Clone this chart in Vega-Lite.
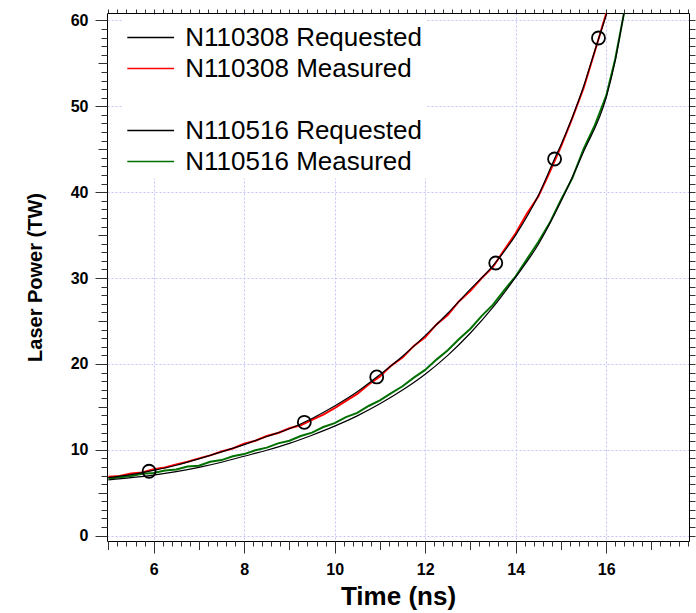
{
  "$schema": "https://vega.github.io/schema/vega-lite/v6.json",
  "width": 582,
  "height": 528,
  "autosize": "none",
  "padding": {"left": 107, "top": 13, "right": 7, "bottom": 72},
  "background": "white",
  "config": {
    "view": {"stroke": null},
    "font": "Liberation Sans",
    "axis": {"grid": false, "domainColor": "black", "domainWidth": 1, "tickColor": "#333333", "tickWidth": 1, "labelFont": "Liberation Sans", "titleFont": "Liberation Sans"}
  },
  "datasets": {
    "requested": [
      {"series": "N110308 Requested", "t": 5.0, "p": 6.75},
      {"series": "N110308 Requested", "t": 5.5, "p": 7.1},
      {"series": "N110308 Requested", "t": 6.0, "p": 7.6},
      {"series": "N110308 Requested", "t": 6.5, "p": 8.2},
      {"series": "N110308 Requested", "t": 7.0, "p": 8.95},
      {"series": "N110308 Requested", "t": 7.5, "p": 9.75},
      {"series": "N110308 Requested", "t": 8.0, "p": 10.6},
      {"series": "N110308 Requested", "t": 8.5, "p": 11.55},
      {"series": "N110308 Requested", "t": 9.0, "p": 12.45},
      {"series": "N110308 Requested", "t": 9.5, "p": 13.65},
      {"series": "N110308 Requested", "t": 10.0, "p": 15.1},
      {"series": "N110308 Requested", "t": 10.5, "p": 16.75},
      {"series": "N110308 Requested", "t": 11.0, "p": 18.75},
      {"series": "N110308 Requested", "t": 11.5, "p": 20.9},
      {"series": "N110308 Requested", "t": 12.0, "p": 23.3},
      {"series": "N110308 Requested", "t": 12.5, "p": 25.9},
      {"series": "N110308 Requested", "t": 13.0, "p": 28.7},
      {"series": "N110308 Requested", "t": 13.5, "p": 31.45},
      {"series": "N110308 Requested", "t": 14.0, "p": 35.0},
      {"series": "N110308 Requested", "t": 14.5, "p": 39.6},
      {"series": "N110308 Requested", "t": 14.86, "p": 43.9},
      {"series": "N110308 Requested", "t": 15.0, "p": 45.5},
      {"series": "N110308 Requested", "t": 15.25, "p": 48.7},
      {"series": "N110308 Requested", "t": 15.5, "p": 52.3},
      {"series": "N110308 Requested", "t": 15.75, "p": 56.5},
      {"series": "N110308 Requested", "t": 16.0, "p": 60.6},
      {"series": "N110308 Requested", "t": 16.1, "p": 62.3},
      {"series": "N110516 Requested", "t": 5.0, "p": 6.5},
      {"series": "N110516 Requested", "t": 5.5, "p": 6.75},
      {"series": "N110516 Requested", "t": 6.0, "p": 7.05},
      {"series": "N110516 Requested", "t": 6.5, "p": 7.45},
      {"series": "N110516 Requested", "t": 7.0, "p": 7.95},
      {"series": "N110516 Requested", "t": 7.5, "p": 8.55},
      {"series": "N110516 Requested", "t": 8.0, "p": 9.25},
      {"series": "N110516 Requested", "t": 8.5, "p": 9.95},
      {"series": "N110516 Requested", "t": 9.0, "p": 10.75},
      {"series": "N110516 Requested", "t": 9.5, "p": 11.7},
      {"series": "N110516 Requested", "t": 10.0, "p": 12.75},
      {"series": "N110516 Requested", "t": 10.5, "p": 13.95},
      {"series": "N110516 Requested", "t": 11.0, "p": 15.35},
      {"series": "N110516 Requested", "t": 11.5, "p": 16.95},
      {"series": "N110516 Requested", "t": 12.0, "p": 18.8},
      {"series": "N110516 Requested", "t": 12.5, "p": 21.0},
      {"series": "N110516 Requested", "t": 13.0, "p": 23.6},
      {"series": "N110516 Requested", "t": 13.5, "p": 26.6},
      {"series": "N110516 Requested", "t": 14.0, "p": 30.1},
      {"series": "N110516 Requested", "t": 14.5, "p": 33.9},
      {"series": "N110516 Requested", "t": 15.0, "p": 38.9},
      {"series": "N110516 Requested", "t": 15.5, "p": 44.7},
      {"series": "N110516 Requested", "t": 16.0, "p": 51.0},
      {"series": "N110516 Requested", "t": 16.2, "p": 55.3},
      {"series": "N110516 Requested", "t": 16.4, "p": 61.0},
      {"series": "N110516 Requested", "t": 16.45, "p": 62.3}
    ],
    "measured": [
      {"series": "N110308 Measured", "t": 5.0, "p": 6.85},
      {"series": "N110308 Measured", "t": 5.25, "p": 6.95},
      {"series": "N110308 Measured", "t": 5.5, "p": 7.25},
      {"series": "N110308 Measured", "t": 5.75, "p": 7.35},
      {"series": "N110308 Measured", "t": 6.0, "p": 7.75},
      {"series": "N110308 Measured", "t": 6.25, "p": 7.95},
      {"series": "N110308 Measured", "t": 6.5, "p": 8.3},
      {"series": "N110308 Measured", "t": 6.75, "p": 8.6},
      {"series": "N110308 Measured", "t": 7.0, "p": 9.0},
      {"series": "N110308 Measured", "t": 7.25, "p": 9.35},
      {"series": "N110308 Measured", "t": 7.5, "p": 9.8},
      {"series": "N110308 Measured", "t": 7.75, "p": 10.15},
      {"series": "N110308 Measured", "t": 8.0, "p": 10.7},
      {"series": "N110308 Measured", "t": 8.25, "p": 11.05},
      {"series": "N110308 Measured", "t": 8.5, "p": 11.6},
      {"series": "N110308 Measured", "t": 8.75, "p": 11.95},
      {"series": "N110308 Measured", "t": 9.0, "p": 12.5},
      {"series": "N110308 Measured", "t": 9.25, "p": 12.85},
      {"series": "N110308 Measured", "t": 9.5, "p": 13.5},
      {"series": "N110308 Measured", "t": 9.75, "p": 14.1},
      {"series": "N110308 Measured", "t": 10.0, "p": 14.85},
      {"series": "N110308 Measured", "t": 10.25, "p": 15.7},
      {"series": "N110308 Measured", "t": 10.5, "p": 16.5},
      {"series": "N110308 Measured", "t": 10.75, "p": 17.6},
      {"series": "N110308 Measured", "t": 11.0, "p": 18.55},
      {"series": "N110308 Measured", "t": 11.25, "p": 19.8},
      {"series": "N110308 Measured", "t": 11.5, "p": 20.75},
      {"series": "N110308 Measured", "t": 11.75, "p": 22.1},
      {"series": "N110308 Measured", "t": 12.0, "p": 23.1},
      {"series": "N110308 Measured", "t": 12.25, "p": 24.6},
      {"series": "N110308 Measured", "t": 12.5, "p": 25.7},
      {"series": "N110308 Measured", "t": 12.75, "p": 27.3},
      {"series": "N110308 Measured", "t": 13.0, "p": 28.5},
      {"series": "N110308 Measured", "t": 13.25, "p": 30.0},
      {"series": "N110308 Measured", "t": 13.5, "p": 31.3},
      {"series": "N110308 Measured", "t": 13.75, "p": 33.3},
      {"series": "N110308 Measured", "t": 14.0, "p": 35.2},
      {"series": "N110308 Measured", "t": 14.25, "p": 37.5},
      {"series": "N110308 Measured", "t": 14.5, "p": 39.5},
      {"series": "N110308 Measured", "t": 14.75, "p": 42.3},
      {"series": "N110308 Measured", "t": 15.0, "p": 45.3},
      {"series": "N110308 Measured", "t": 15.25, "p": 48.6},
      {"series": "N110308 Measured", "t": 15.5, "p": 52.1},
      {"series": "N110308 Measured", "t": 15.75, "p": 56.4},
      {"series": "N110308 Measured", "t": 16.0, "p": 60.8},
      {"series": "N110308 Measured", "t": 16.1, "p": 62.5},
      {"series": "N110516 Measured", "t": 5.0, "p": 6.65},
      {"series": "N110516 Measured", "t": 5.25, "p": 6.8},
      {"series": "N110516 Measured", "t": 5.5, "p": 6.95},
      {"series": "N110516 Measured", "t": 5.75, "p": 7.2},
      {"series": "N110516 Measured", "t": 6.0, "p": 7.3},
      {"series": "N110516 Measured", "t": 6.25, "p": 7.6},
      {"series": "N110516 Measured", "t": 6.5, "p": 7.7},
      {"series": "N110516 Measured", "t": 6.75, "p": 8.05},
      {"series": "N110516 Measured", "t": 7.0, "p": 8.15},
      {"series": "N110516 Measured", "t": 7.25, "p": 8.6},
      {"series": "N110516 Measured", "t": 7.5, "p": 8.8},
      {"series": "N110516 Measured", "t": 7.75, "p": 9.25},
      {"series": "N110516 Measured", "t": 8.0, "p": 9.5},
      {"series": "N110516 Measured", "t": 8.25, "p": 9.95},
      {"series": "N110516 Measured", "t": 8.5, "p": 10.25},
      {"series": "N110516 Measured", "t": 8.75, "p": 10.75},
      {"series": "N110516 Measured", "t": 9.0, "p": 11.05},
      {"series": "N110516 Measured", "t": 9.25, "p": 11.6},
      {"series": "N110516 Measured", "t": 9.5, "p": 12.0},
      {"series": "N110516 Measured", "t": 9.75, "p": 12.65},
      {"series": "N110516 Measured", "t": 10.0, "p": 13.1},
      {"series": "N110516 Measured", "t": 10.25, "p": 13.8},
      {"series": "N110516 Measured", "t": 10.5, "p": 14.3},
      {"series": "N110516 Measured", "t": 10.75, "p": 15.1},
      {"series": "N110516 Measured", "t": 11.0, "p": 15.75},
      {"series": "N110516 Measured", "t": 11.25, "p": 16.6},
      {"series": "N110516 Measured", "t": 11.5, "p": 17.4},
      {"series": "N110516 Measured", "t": 11.75, "p": 18.4},
      {"series": "N110516 Measured", "t": 12.0, "p": 19.3},
      {"series": "N110516 Measured", "t": 12.25, "p": 20.5},
      {"series": "N110516 Measured", "t": 12.5, "p": 21.6},
      {"series": "N110516 Measured", "t": 12.75, "p": 22.9},
      {"series": "N110516 Measured", "t": 13.0, "p": 24.1},
      {"series": "N110516 Measured", "t": 13.25, "p": 25.6},
      {"series": "N110516 Measured", "t": 13.5, "p": 26.9},
      {"series": "N110516 Measured", "t": 13.75, "p": 28.6},
      {"series": "N110516 Measured", "t": 14.0, "p": 30.2},
      {"series": "N110516 Measured", "t": 14.25, "p": 32.2},
      {"series": "N110516 Measured", "t": 14.5, "p": 34.2},
      {"series": "N110516 Measured", "t": 14.75, "p": 36.4},
      {"series": "N110516 Measured", "t": 15.0, "p": 39.1},
      {"series": "N110516 Measured", "t": 15.25, "p": 41.6},
      {"series": "N110516 Measured", "t": 15.5, "p": 45.0},
      {"series": "N110516 Measured", "t": 15.75, "p": 47.8},
      {"series": "N110516 Measured", "t": 16.0, "p": 51.2},
      {"series": "N110516 Measured", "t": 16.2, "p": 55.5},
      {"series": "N110516 Measured", "t": 16.4, "p": 61.0},
      {"series": "N110516 Measured", "t": 16.45, "p": 62.3}
    ],
    "circles": [
      {"t": 5.9, "p": 7.5},
      {"t": 9.33, "p": 13.2},
      {"t": 10.93, "p": 18.48},
      {"t": 13.56, "p": 31.75},
      {"t": 14.86, "p": 43.86},
      {"t": 15.83, "p": 57.95}
    ]
  },
  "resolve": {"axis": {"x": "independent", "y": "independent"}},
  "layer": [
    {
      "data": {"name": "measured"},
      "mark": {"type": "line", "strokeWidth": 2, "clip": true},
      "encoding": {
        "x": {"field": "t", "type": "quantitative",
          "scale": {"domain": [4.97, 17.83], "nice": false, "zero": false},
          "axis": {"orient": "bottom", "values": [6, 8, 10, 12, 14, 16], "tickSize": 12, "labelFontSize": 16, "labelFontWeight": "bold", "labelColor": "black", "labelPadding": 8, "labelFlush": false, "labelOverlap": false, "format": "d",
            "grid": true, "gridColor": "#c4c4f8", "gridDash": [2, 2], "gridWidth": 1,
            "title": "Time (ns)", "titleFontSize": 26, "titleFontWeight": "bold", "titleColor": "black", "titlePadding": 6}},
        "y": {"field": "p", "type": "quantitative",
          "scale": {"domain": [-0.62, 60.86], "nice": false, "zero": false},
          "axis": {"orient": "left", "values": [0, 10, 20, 30, 40, 50, 60], "tickSize": 12, "labelFontSize": 16, "labelFontWeight": "bold", "labelColor": "black", "labelPadding": 7, "labelFlush": false, "labelOverlap": false, "format": "d",
            "grid": true, "gridColor": "#c4c4f8", "gridDash": [2, 2], "gridWidth": 1,
            "title": "Laser Power (TW)", "titleFontSize": 20, "titleFontWeight": "bold", "titleColor": "black", "titlePadding": 25}},
        "color": {"field": "series", "type": "nominal",
          "scale": {"domain": ["N110308 Requested", "N110308 Measured", " ", "N110516 Requested", "N110516 Measured"], "range": ["black", "#ff0000", "white", "black", "#007000"]},
          "legend": {"orient": "none", "legendX": 15, "legendY": 2.5, "title": null, "symbolType": "M-1.4,0H1.4", "symbolSize": 1116, "symbolOffset": 6.7, "symbolStrokeWidth": 1.6, "labelFontSize": 26, "labelFont": "Liberation Sans", "labelColor": "black", "labelOffset": 16.6, "rowPadding": 0, "padding": 4, "fillColor": "white", "labelLimit": 600}}
      }
    },
    {
      "data": {"name": "requested"},
      "mark": {"type": "line", "strokeWidth": 1.2, "clip": true, "interpolate": "monotone"},
      "encoding": {
        "x": {"field": "t", "type": "quantitative",
          "axis": {"orient": "bottom", "values": [5,5.2,5.4,5.6,5.8,6,6.2,6.4,6.6,6.8,7,7.2,7.4,7.6,7.8,8,8.2,8.4,8.6,8.8,9,9.2,9.4,9.6,9.8,10,10.2,10.4,10.6,10.8,11,11.2,11.4,11.6,11.8,12,12.2,12.4,12.6,12.8,13,13.2,13.4,13.6,13.8,14,14.2,14.4,14.6,14.8,15,15.2,15.4,15.6,15.8,16,16.2,16.4,16.6,16.8,17,17.2,17.4,17.6,17.8], "tickSize": 5, "labels": false, "domain": false, "grid": false, "title": null}},
        "y": {"field": "p", "type": "quantitative",
          "axis": {"orient": "left", "values": [0,1,2,3,4,5,6,7,8,9,10,11,12,13,14,15,16,17,18,19,20,21,22,23,24,25,26,27,28,29,30,31,32,33,34,35,36,37,38,39,40,41,42,43,44,45,46,47,48,49,50,51,52,53,54,55,56,57,58,59,60], "tickSize": 6, "labels": false, "domain": false, "grid": false, "title": null}},
        "color": {"field": "series", "type": "nominal",
          "legend": {"orient": "none", "legendX": 15, "legendY": 2.5, "title": null, "symbolType": "M-1.4,0H1.4", "symbolSize": 1116, "symbolOffset": 6.7, "symbolStrokeWidth": 1.6, "labelFontSize": 26, "labelFont": "Liberation Sans", "labelColor": "black", "labelOffset": 16.6, "rowPadding": 0, "padding": 4, "fillColor": "white", "labelLimit": 600}}
      }
    },
    {
      "data": {"name": "circles"},
      "mark": {"type": "point", "shape": "circle", "filled": false, "size": 169, "stroke": "black", "strokeWidth": 1.8, "opacity": 1},
      "encoding": {
        "x": {"field": "t", "type": "quantitative",
          "axis": {"orient": "bottom", "values": [5, 7, 9, 11, 13, 15, 17], "tickSize": 8.5, "labels": false, "domain": false, "grid": false, "title": null}},
        "y": {"field": "p", "type": "quantitative",
          "axis": {"orient": "left", "values": [5, 15, 25, 35, 45, 55], "tickSize": 9, "labels": false, "domain": false, "grid": false, "title": null}}
      }
    },
    {
      "mark": {"type": "rule", "color": "black", "strokeWidth": 1},
      "encoding": {"y": {"datum": 0, "type": "quantitative", "axis": null}}
    },
    {
      "data": {"name": "circles"},
      "mark": {"type": "point", "opacity": 0},
      "encoding": {
        "x": {"field": "t", "type": "quantitative",
          "axis": {"orient": "top", "values": [5,5.2,5.4,5.6,5.8,6,6.2,6.4,6.6,6.8,7,7.2,7.4,7.6,7.8,8,8.2,8.4,8.6,8.8,9,9.2,9.4,9.6,9.8,10,10.2,10.4,10.6,10.8,11,11.2,11.4,11.6,11.8,12,12.2,12.4,12.6,12.8,13,13.2,13.4,13.6,13.8,14,14.2,14.4,14.6,14.8,15,15.2,15.4,15.6,15.8,16,16.2,16.4,16.6,16.8,17,17.2,17.4,17.6,17.8], "tickSize": 4, "labels": false, "domain": true, "grid": false, "title": null}},
        "y": {"field": "p", "type": "quantitative",
          "axis": {"orient": "right", "values": [0,1,2,3,4,5,6,7,8,9,10,11,12,13,14,15,16,17,18,19,20,21,22,23,24,25,26,27,28,29,30,31,32,33,34,35,36,37,38,39,40,41,42,43,44,45,46,47,48,49,50,51,52,53,54,55,56,57,58,59,60], "tickSize": 6, "labels": false, "domain": true, "grid": false, "title": null}}
      }
    }
  ]
}
